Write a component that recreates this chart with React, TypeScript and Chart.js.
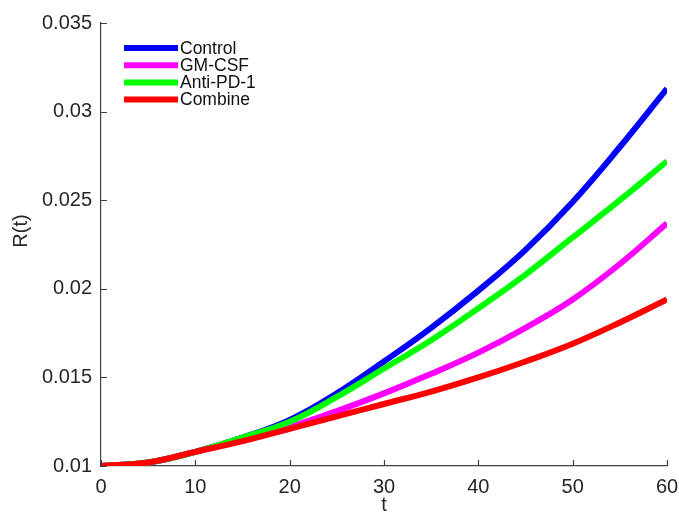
import React, { useEffect, useRef } from "react";
import { Chart, registerables } from "chart.js";

Chart.register(...registerables);

const tValues = [0, 5, 10, 15, 20, 25, 30, 35, 40, 45, 50, 55, 60];
const controlValues = [0.01, 0.0102, 0.0108, 0.0116, 0.0126, 0.0141, 0.0159, 0.0178, 0.0199, 0.0222, 0.0249, 0.028, 0.0313];
const gmcsfValues = [0.01, 0.0102, 0.0108, 0.0115, 0.0122, 0.0131, 0.0141, 0.0152, 0.0164, 0.0178, 0.0194, 0.0214, 0.0237];
const antiPd1Values = [0.01, 0.0102, 0.0108, 0.0116, 0.0125, 0.0139, 0.0155, 0.0171, 0.0189, 0.0208, 0.0229, 0.025, 0.0272];
const combineValues = [0.01, 0.0102, 0.0108, 0.0114, 0.0121, 0.0128, 0.0135, 0.0142, 0.015, 0.0159, 0.0169, 0.0181, 0.0194];
const seriesLabels = ["Control", "GM-CSF", "Anti-PD-1", "Combine"];
const seriesColors = ["#0000FF", "#FF00FF", "#00FF00", "#FF0000"];
const xTicks = [0, 10, 20, 30, 40, 50, 60];
const yTicks = [0.01, 0.015, 0.02, 0.025, 0.03, 0.035];
const xTitle = "t";
const yTitle = "R(t)";

const FONT = "'Liberation Sans', Arial, Helvetica, sans-serif";
const AXIS_COLOR = "#404040";
const TEXT_COLOR = "#262626";

const decorPlugin = {
  id: "decor",
  afterDraw(chart: any) {
    const ctx = chart.ctx;
    const xs = chart.scales.x;
    const ys = chart.scales.y;
    const area = chart.chartArea;
    ctx.save();
    ctx.strokeStyle = AXIS_COLOR;
    ctx.lineWidth = 1.2;
    ctx.beginPath();
    xTicks.forEach((v) => {
      const px = Math.round(xs.getPixelForValue(v)) + 0.5;
      ctx.moveTo(px, area.bottom);
      ctx.lineTo(px, area.bottom - 6);
    });
    yTicks.forEach((v) => {
      const py = Math.round(ys.getPixelForValue(v)) + 0.5;
      ctx.moveTo(area.left, py);
      ctx.lineTo(area.left + 6, py);
    });
    ctx.stroke();
    ctx.fillStyle = TEXT_COLOR;
    ctx.font = `20px ${FONT}`;
    ctx.textAlign = "center";
    ctx.textBaseline = "middle";
    ctx.fillText(xTitle, (area.left + area.right) / 2, 505);
    ctx.save();
    ctx.translate(21, 231);
    ctx.rotate(-Math.PI / 2);
    ctx.fillText(yTitle, 0, 0);
    ctx.restore();
    ctx.font = `17.5px ${FONT}`;
    ctx.textAlign = "left";
    ctx.textBaseline = "middle";
    chart.data.datasets.forEach((ds: any, i: number) => {
      const y = 48 + i * 17.2;
      ctx.strokeStyle = ds.borderColor;
      ctx.lineWidth = 6;
      ctx.beginPath();
      ctx.moveTo(124, y);
      ctx.lineTo(178, y);
      ctx.stroke();
      ctx.fillStyle = "#111";
      ctx.fillText(ds.label, 180, y + 1);
    });
    ctx.restore();
  },
};

export default function App() {
  const ref = useRef<HTMLCanvasElement>(null);
  useEffect(() => {
    const allValues = [controlValues, gmcsfValues, antiPd1Values, combineValues];
    const chart = new Chart(ref.current as HTMLCanvasElement, {
      type: "line",
      data: {
        datasets: allValues.map((vals, i) => ({
          label: seriesLabels[i],
          data: vals.map((v, j) => ({ x: tValues[j], y: v })),
          borderColor: seriesColors[i],
          backgroundColor: seriesColors[i],
          borderWidth: 6,
          pointRadius: 0,
          tension: 0.4,
          fill: false,
          order: 4 - i,
          borderCapStyle: "butt" as const,
        })),
      },
      options: {
        animation: false,
        responsive: false,
        layout: { padding: { left: 0, right: 12, top: 23, bottom: 0 } },
        plugins: { legend: { display: false }, tooltip: { enabled: false } },
        scales: {
          x: {
            type: "linear",
            min: 0,
            max: 60,
            afterBuildTicks: (s: any) => {
              s.ticks = xTicks.map((v) => ({ value: v }));
            },
            afterFit: (s: any) => {
              s.height = 47;
              s.paddingLeft = 0;
              s.paddingRight = 0;
            },
            grid: { display: false, drawTicks: false },
            border: { display: true, color: AXIS_COLOR, width: 1.2 },
            ticks: {
              padding: 9,
              color: TEXT_COLOR,
              font: { family: FONT, size: 20 },
              maxRotation: 0,
              callback: (v: any) => String(v),
            },
          },
          y: {
            type: "linear",
            min: 0.01,
            max: 0.035,
            afterBuildTicks: (s: any) => {
              s.ticks = yTicks.map((v) => ({ value: v }));
            },
            afterFit: (s: any) => {
              s.width = 101;
              s.paddingTop = 0;
              s.paddingBottom = 0;
            },
            grid: { display: false, drawTicks: false },
            border: { display: true, color: AXIS_COLOR, width: 1.2 },
            ticks: {
              padding: 9,
              color: TEXT_COLOR,
              font: { family: FONT, size: 20 },
              callback: (v: any) => String(parseFloat(Number(v).toFixed(4))),
            },
          },
        },
      },
      plugins: [decorPlugin],
    });
    return () => chart.destroy();
  }, []);
  return (
    <div style={{ position: "fixed", left: 0, top: 0, width: 679, height: 513, background: "#fff" }}>
      <canvas ref={ref} width={679} height={513} style={{ display: "block" }} />
    </div>
  );
}
